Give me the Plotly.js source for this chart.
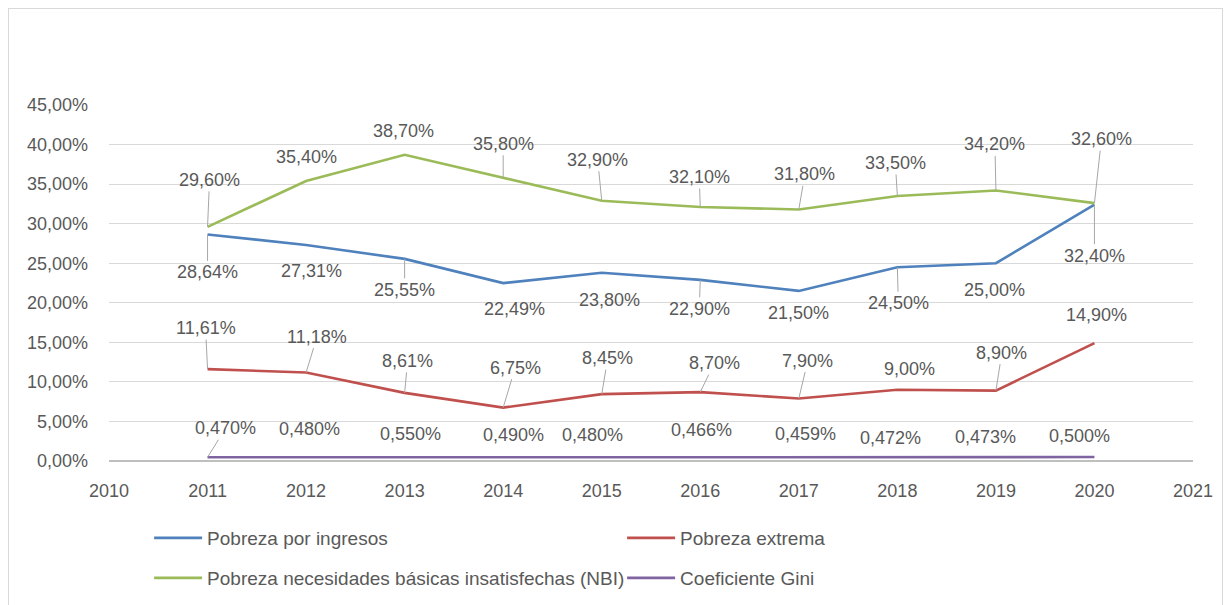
<!DOCTYPE html>
<html>
<head>
<meta charset="utf-8">
<script src="https://cdn.plot.ly/plotly-3.0.1.min.js"></script>
<style>
  html, body { margin: 0; padding: 0; background: #ffffff; }
  #wrap { position: relative; width: 1227px; height: 605px; overflow: hidden; }
  #chart { position: absolute; left: 0; top: 0; width: 1227px; height: 605px; }
  #frame { position: absolute; left: 8px; top: 8px; width: 1213px; height: 610px; border: 1px solid #d9d9d9; pointer-events: none; }
</style>
</head>
<body>
<div id="wrap">
  <div id="chart"></div>
  <div id="frame"></div>
</div>
<script>
// ---- data ----
const years = [2011, 2012, 2013, 2014, 2015, 2016, 2017, 2018, 2019, 2020];
const pobrezaIngresos = [28.64, 27.31, 25.55, 22.49, 23.80, 22.90, 21.50, 24.50, 25.00, 32.40];
const pobrezaExtrema = [11.61, 11.18, 8.61, 6.75, 8.45, 8.70, 7.90, 9.00, 8.90, 14.90];
const pobrezaNBI = [29.60, 35.40, 38.70, 35.80, 32.90, 32.10, 31.80, 33.50, 34.20, 32.60];
const coefGini = [0.470, 0.480, 0.550, 0.490, 0.480, 0.466, 0.459, 0.472, 0.473, 0.500];
const seriesNames = [
  'Pobreza por ingresos',
  'Pobreza extrema',
  'Pobreza necesidades básicas insatisfechas (NBI)',
  'Coeficiente Gini'
];
const xTickVals = [2010, 2011, 2012, 2013, 2014, 2015, 2016, 2017, 2018, 2019, 2020, 2021];
const yTickVals = [0, 5, 10, 15, 20, 25, 30, 35, 40, 45];

// ---- styling / label placement (pixel offsets from each point) ----
const colors = ['#4F81BD', '#C0504D', '#9BBB59', '#8064A2'];
const decimals = [2, 2, 2, 3];
const labelDX = [
  [0, 5, 0, 11, 8, -1, 0, 1, -1, 0],
  [-2, 11, 3, 12, 6, 14, 9, 12, 6, 2],
  [2, 0, -1, 0, -4, -1, 6, -2, -1, 7],
  [18, 3, 6, 10, -9, 1, 7, -7, -10, -15]
];
const labelDY = [
  [38, 26, 31, 26, 27, 29, 22, 36, 27, 51],
  [-41, -36, -32, -40, -36, -29, -38, -21, -38, -28],
  [-47, -24, -24, -34, -41, -30, -35, -33, -46, -64],
  [-29, -28, -23, -22, -22, -27, -23, -19, -20, -21]
];
const leader = [
  [1, 0, 1, 0, 0, 1, 0, 1, 0, 1],
  [1, 1, 1, 1, 1, 1, 1, 0, 1, 0],
  [1, 0, 0, 1, 1, 1, 1, 1, 1, 1],
  [1, 0, 0, 0, 0, 0, 0, 0, 0, 0]
];

const allSeries = [pobrezaIngresos, pobrezaExtrema, pobrezaNBI, coefGini];
const legendIds = ['legend', 'legend', 'legend2', 'legend2'];
const FONT = 'Liberation Sans, Arial, sans-serif';
const TXT = '#595959';

const fmt = (v, d) => v.toFixed(d).replace('.', ',') + '%';

const traces = allSeries.map((vals, s) => ({
  type: 'scatter',
  mode: 'lines',
  x: years,
  y: vals,
  name: seriesNames[s],
  legend: legendIds[s],
  line: { color: colors[s], width: 2.6 },
  hoverinfo: 'skip'
}));

const annotations = [];
allSeries.forEach((vals, s) => {
  vals.forEach((v, i) => {
    annotations.push({
      x: years[i], y: v, xref: 'x', yref: 'y',
      text: fmt(v, decimals[s]),
      showarrow: true, arrowhead: 0, arrowwidth: 1,
      arrowcolor: leader[s][i] ? '#a6a6a6' : 'rgba(0,0,0,0)',
      ax: labelDX[s][i], ay: labelDY[s][i],
      font: { family: FONT, size: 18, color: TXT }
    });
  });
});

const legendCommon = {
  orientation: 'h', xanchor: 'left', yanchor: 'middle', yref: 'container',
  itemwidth: 48,
  entrywidth: 410, entrywidthmode: 'pixels',
  font: { family: FONT, size: 19, color: TXT }, bgcolor: 'rgba(0,0,0,0)'
};

const layout = {
  width: 1227, height: 605,
  margin: { l: 109, r: 34, t: 105, b: 144, pad: 0, autoexpand: false },
  paper_bgcolor: '#ffffff', plot_bgcolor: '#ffffff',
  separators: ',.',
  showlegend: true,
  font: { family: FONT, size: 17, color: TXT },
  xaxis: {
    range: [2010, 2021], tickvals: xTickVals, ticktext: xTickVals.map(String),
    showgrid: false, zeroline: false, showline: false,
    ticks: '', ticklabelstandoff: 17,
    tickfont: { family: FONT, size: 18, color: TXT }, fixedrange: true
  },
  yaxis: {
    range: [0, 45], tickvals: yTickVals, ticktext: yTickVals.map(v => v.toFixed(2).replace('.', ',') + '%'),
    showgrid: true, gridcolor: '#d9d9d9', gridwidth: 1,
    zeroline: true, zerolinecolor: '#bfbfbf', zerolinewidth: 1.3,
    showline: false, ticks: '', ticklabelstandoff: 20,
    tickfont: { family: FONT, size: 18, color: TXT }, fixedrange: true
  },
  legend: Object.assign({}, legendCommon, { x: 0.037, y: 1 - 538 / 605 }),
  legend2: Object.assign({}, legendCommon, { x: 0.037, y: 1 - 578 / 605 }),
  annotations: annotations
};

Plotly.newPlot('chart', traces, layout, { displayModeBar: false, staticPlot: true });
</script>
</body>
</html>
